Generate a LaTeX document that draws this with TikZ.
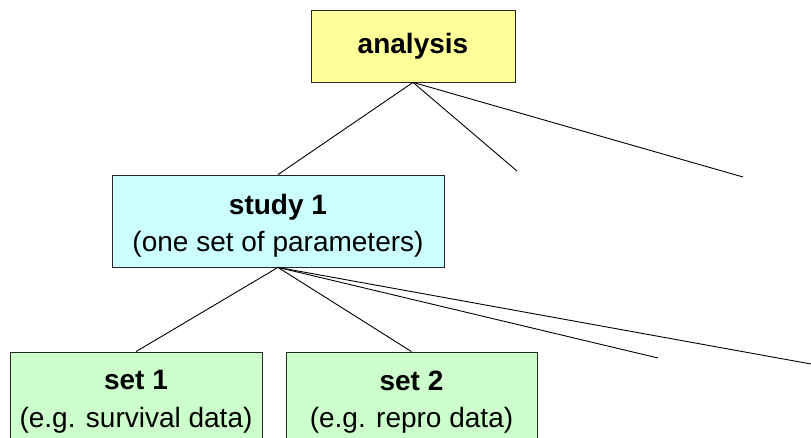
\documentclass[tikz,border=0pt]{standalone}
\usepackage{fontspec}
\setmainfont{Liberation Sans}
\begin{document}
\begin{tikzpicture}[x=1pt,y=-1pt,
  box/.style={draw=black!85, line width=0.8pt, inner sep=0pt},
  txt/.style={inner sep=0pt, align=center, font=\fontsize{28}{37.5}\selectfont},
  link/.style={draw=black, line width=0.9pt}]
\clip (0,0) rectangle (811,438);
\fill[white] (0,0) rectangle (811,438);
% tree of boxes
\node[box, fill={rgb,255:red,255;green,255;blue,153}, minimum width=204pt, minimum height=72pt]
  (ana) at (413,46) {};
\node[box, fill={rgb,255:red,204;green,255;blue,255}, minimum width=332pt, minimum height=92pt]
  (st1) at (278,221) {};
\node[box, fill={rgb,255:red,204;green,255;blue,204}, minimum width=252pt, minimum height=92pt]
  (set1) at (136,398) {};
\node[box, fill={rgb,255:red,204;green,255;blue,204}, minimum width=251pt, minimum height=92pt]
  (set2) at (411.5,398) {};
% box captions
\node[txt] (anat) at (ana.center) {\textbf{analysis}};
\node[txt] (st1t) at ([yshift=-5pt]st1.center) {\textbf{study 1}\\(one set of parameters)};
\node[txt] (set1t) at ([yshift=-4pt]set1.center) {\textbf{set 1}\\(e.g. survival data)};
\node[txt] (set2t) at ([yshift=-4pt]set2.center) {\textbf{set 2}\\(e.g. repro data)};
% open ends of further branches
\coordinate (a2) at (517,171);
\coordinate (a3) at (743,177);
\coordinate (s3) at (658,358);
\coordinate (s4) at (811,364);
% connectors
\draw[link] (ana.south) -- (st1.north);
\draw[link] (ana.south) -- (a2);
\draw[link] (ana.south) -- (a3);
\draw[link] (st1.south) -- (set1.north);
\draw[link] (st1.south) -- (set2.north);
\draw[link] (st1.south) -- (s3);
\draw[link] (st1.south) -- (s4);
\end{tikzpicture}
\end{document}
